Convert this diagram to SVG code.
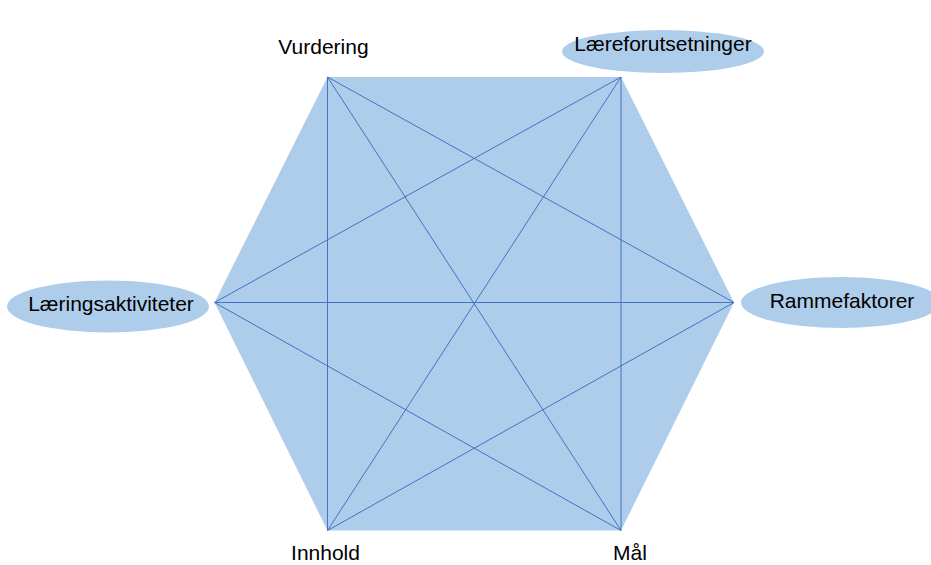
<svg xmlns="http://www.w3.org/2000/svg" width="931" height="565" viewBox="0 0 931 565">
<style>
.bg{fill:#ffffff}
.hex{fill:#AECDEA;stroke:none}
.oval{fill:#AECDEA;stroke:none}
.ln{stroke:#4472C4;stroke-width:1;fill:none}
.lbl{font-family:"Liberation Sans",Arial,sans-serif;font-size:21px;fill:#000000;text-anchor:middle}
</style>
<rect class="bg" x="0" y="0" width="931" height="565"/>
<polygon class="hex" points="327.5,77 621,77 734,302.5 621,530.5 327.5,530.5 214.5,302.5"/>
<g id="connectors">
<line class="ln" x1="327.5" y1="77" x2="327.5" y2="530.5"/>
<line class="ln" x1="621" y1="77" x2="621" y2="530.5"/>
<line class="ln" x1="214.5" y1="302.5" x2="734" y2="302.5"/>
<line class="ln" x1="327.5" y1="77" x2="621" y2="530.5"/>
<line class="ln" x1="621" y1="77" x2="327.5" y2="530.5"/>
<line class="ln" x1="327.5" y1="77" x2="734" y2="302.5"/>
<line class="ln" x1="621" y1="77" x2="214.5" y2="302.5"/>
<line class="ln" x1="214.5" y1="302.5" x2="621" y2="530.5"/>
<line class="ln" x1="734" y1="302.5" x2="327.5" y2="530.5"/>
</g>
<g id="vurdering">
<text class="lbl" x="323.5" y="54">Vurdering</text>
</g>
<g id="laereforutsetninger">
<ellipse class="oval" cx="663" cy="51.5" rx="101" ry="21.5"/>
<text class="lbl" x="663" y="51">Læreforutsetninger</text>
</g>
<g id="laeringsaktiviteter">
<ellipse class="oval" cx="108" cy="306.5" rx="101" ry="26"/>
<text class="lbl" x="111" y="311">Læringsaktiviteter</text>
</g>
<g id="rammefaktorer">
<ellipse class="oval" cx="841" cy="302.5" rx="100" ry="25.5"/>
<text class="lbl" x="842" y="308">Rammefaktorer</text>
</g>
<g id="innhold">
<text class="lbl" x="325.5" y="560">Innhold</text>
</g>
<g id="maal">
<text class="lbl" x="630" y="560">Mål</text>
</g>
</svg>
